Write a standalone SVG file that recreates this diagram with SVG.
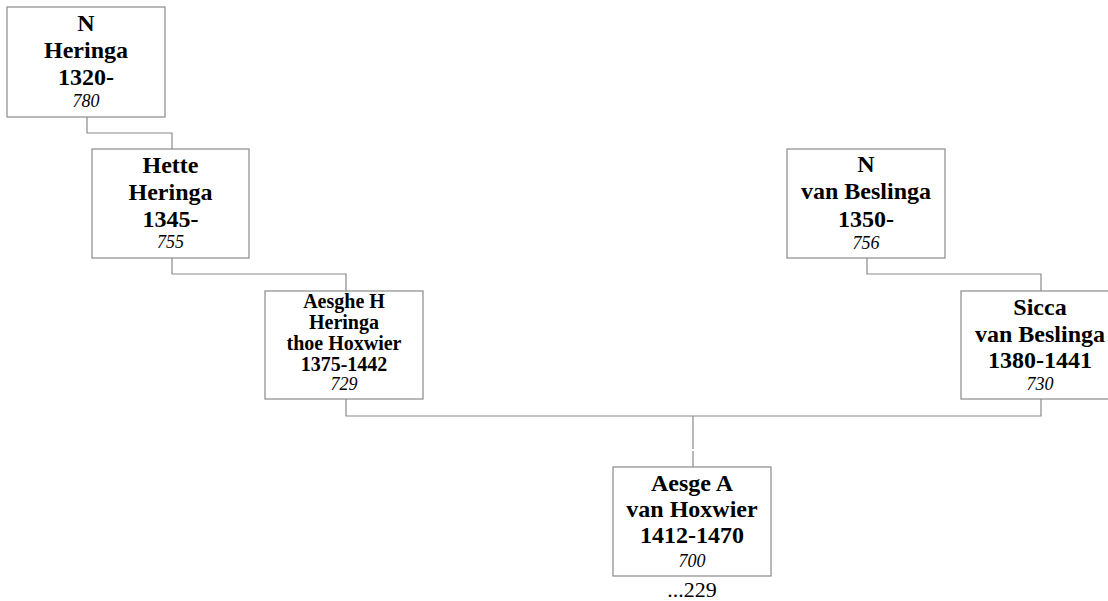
<svg xmlns="http://www.w3.org/2000/svg" width="1108" height="601" viewBox="0 0 1108 601">
<style>
.box{fill:#fff;stroke:#8a8a8a;stroke-width:1.2}
.con{fill:none;stroke:#8a8a8a;stroke-width:1.2}
text{font-family:"Liberation Serif","Times New Roman",serif;text-anchor:middle;fill:#000}
.b{font-weight:bold;font-size:24px}
.s{font-weight:bold;font-size:20px}
.i{font-style:italic;font-size:18px}
.r{font-size:22px}
</style>
<rect width="1108" height="601" fill="#fff"/>
<g id="connectors">
<polyline class="con" points="87,117 87,133 172,133 172,149"/>
<polyline class="con" points="172,258 172,274 346,274 346,291"/>
<polyline class="con" points="867,258 867,274 1041,274 1041,291"/>
<polyline class="con" points="346,399 346,416 1041,416 1041,399"/>
<line class="con" x1="693" y1="416" x2="693" y2="449"/>
<line class="con" x1="693" y1="451" x2="693" y2="467"/>
</g>
<g id="n780">
<rect class="box" x="7" y="7" width="158" height="110"/>
<text class="b" x="86" y="31">N</text>
<text class="b" x="86" y="58">Heringa</text>
<text class="b" x="86" y="85">1320-</text>
<text class="i" x="86" y="107">780</text>
</g>
<g id="n755">
<rect class="box" x="92" y="149" width="157" height="109"/>
<text class="b" x="170.5" y="173">Hette</text>
<text class="b" x="170.5" y="200">Heringa</text>
<text class="b" x="170.5" y="227">1345-</text>
<text class="i" x="170.5" y="248">755</text>
</g>
<g id="n729">
<rect class="box" x="265" y="291" width="158" height="108"/>
<text class="s" x="344" y="308">Aesghe H</text>
<text class="s" x="344" y="329">Heringa</text>
<text class="s" x="344" y="350">thoe Hoxwier</text>
<text class="s" x="344" y="371">1375-1442</text>
<text class="i" x="344" y="390">729</text>
</g>
<g id="n756">
<rect class="box" x="787" y="149" width="158" height="109"/>
<text class="b" x="866" y="172">N</text>
<text class="b" x="866" y="199">van Beslinga</text>
<text class="b" x="866" y="227">1350-</text>
<text class="i" x="866" y="249">756</text>
</g>
<g id="n730">
<rect class="box" x="961" y="291" width="158" height="108"/>
<text class="b" x="1040" y="315">Sicca</text>
<text class="b" x="1040" y="342">van Beslinga</text>
<text class="b" x="1040" y="368">1380-1441</text>
<text class="i" x="1040" y="390">730</text>
</g>
<g id="n700">
<rect class="box" x="613" y="467" width="158" height="109"/>
<text class="b" x="692" y="491">Aesge A</text>
<text class="b" x="692" y="517">van Hoxwier</text>
<text class="b" x="692" y="543">1412-1470</text>
<text class="i" x="692" y="567">700</text>
<text class="r" x="692" y="597">...229</text>
</g>
</svg>
